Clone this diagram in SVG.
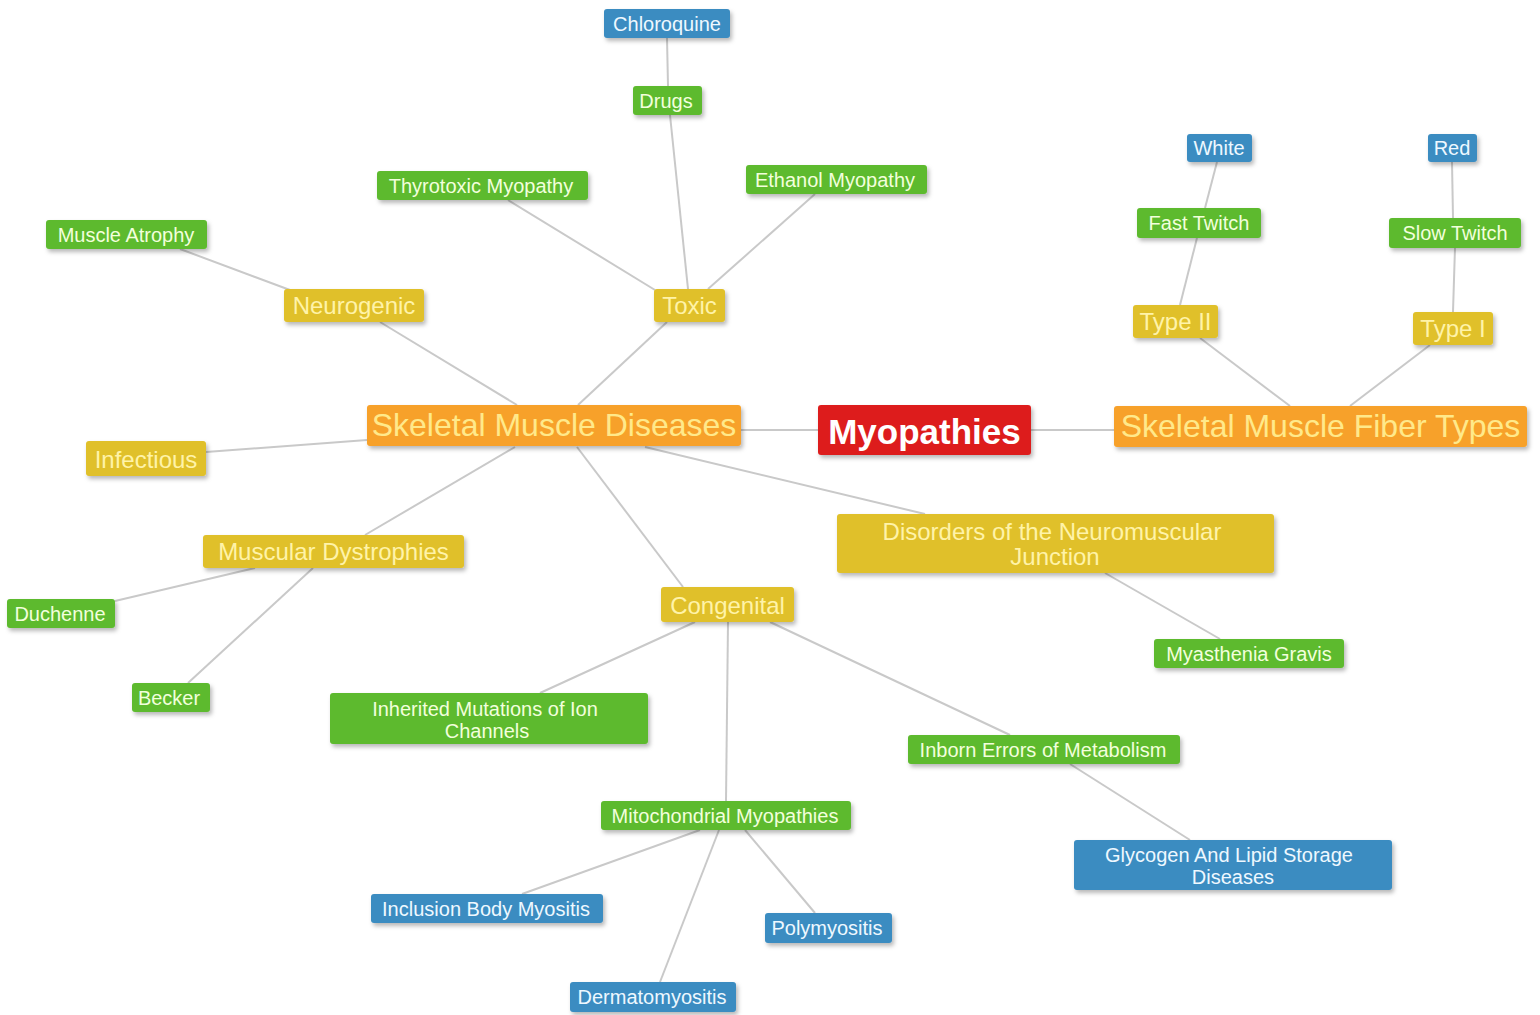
<svg xmlns="http://www.w3.org/2000/svg" width="1540" height="1015" viewBox="0 0 1540 1015">
<defs>
<filter id="sh" x="-10%" y="-30%" width="125%" height="170%">
<feDropShadow dx="2" dy="3" stdDeviation="2" flood-color="#000" flood-opacity="0.28"/>
</filter>
<style>
.n rect{filter:url(#sh);}
.g rect{fill:#5dba2f;}
.b rect{fill:#3a8cc1;}
.y rect{fill:#e0c02a;}
.o rect{fill:#f7a12a;}
.r rect{fill:#dd1c1c;}
text{font-family:"Liberation Sans",Arial,sans-serif;text-anchor:middle;dominant-baseline:central;}
.g text{fill:#f2ffdc;font-size:20px;}
.b text{fill:#eef8ff;font-size:20px;}
.y text{fill:#fff3a8;font-size:24px;}
.o text{fill:#ffe98a;font-size:32px;}
.r text{fill:#ffffff;font-size:35px;font-weight:bold;}
#edges line{stroke:#c9c9c9;stroke-width:2;}
</style>
</defs>
<rect width="1540" height="1015" fill="#ffffff"/>
<g id="edges">
<line x1="741" y1="430" x2="818" y2="430"/>
<line x1="1031" y1="430" x2="1114" y2="430"/>
<line x1="380" y1="322" x2="517" y2="405"/>
<line x1="180" y1="249" x2="290" y2="290"/>
<line x1="578" y1="405" x2="667" y2="322"/>
<line x1="508" y1="200" x2="655" y2="290"/>
<line x1="670" y1="115" x2="688" y2="289"/>
<line x1="708" y1="289" x2="815" y2="194"/>
<line x1="667" y1="38" x2="668" y2="86"/>
<line x1="206" y1="452" x2="367" y2="440"/>
<line x1="365" y1="535" x2="515" y2="447"/>
<line x1="115" y1="601" x2="255" y2="568"/>
<line x1="188" y1="683" x2="313" y2="568"/>
<line x1="577" y1="447" x2="683" y2="587"/>
<line x1="645" y1="447" x2="925" y2="514"/>
<line x1="1105" y1="573" x2="1220" y2="639"/>
<line x1="540" y1="693" x2="695" y2="622"/>
<line x1="728" y1="622" x2="726" y2="801"/>
<line x1="770" y1="622" x2="1010" y2="735"/>
<line x1="1070" y1="764" x2="1190" y2="840"/>
<line x1="522" y1="894" x2="700" y2="830"/>
<line x1="660" y1="982" x2="719" y2="830"/>
<line x1="815" y1="913" x2="745" y2="830"/>
<line x1="1200" y1="338" x2="1290" y2="406"/>
<line x1="1350" y1="406" x2="1430" y2="345"/>
<line x1="1180" y1="305" x2="1197" y2="238"/>
<line x1="1205" y1="208" x2="1217" y2="162"/>
<line x1="1453" y1="312" x2="1455" y2="248"/>
<line x1="1453" y1="218" x2="1452" y2="162"/>
</g>
<g id="myopathies" class="n r"><rect x="818" y="405" width="213" height="50" rx="3"/><text x="924.5" y="431">Myopathies</text></g>
<g id="smd" class="n o"><rect x="367" y="405" width="374" height="41" rx="3"/><text x="554" y="425">Skeletal Muscle Diseases</text></g>
<g id="smft" class="n o"><rect x="1114" y="406" width="413" height="41" rx="3"/><text x="1320.5" y="426">Skeletal Muscle Fiber Types</text></g>
<g id="neurogenic" class="n y"><rect x="284" y="289" width="140" height="33" rx="3"/><text x="354" y="305.5">Neurogenic</text></g>
<g id="toxic" class="n y"><rect x="654" y="289" width="71" height="33" rx="3"/><text x="689.5" y="305.5">Toxic</text></g>
<g id="infectious" class="n y"><rect x="86" y="441" width="120" height="35" rx="3"/><text x="146" y="459">Infectious</text></g>
<g id="dystrophies" class="n y"><rect x="203" y="535" width="261" height="33" rx="3"/><text x="333.5" y="551.5">Muscular Dystrophies</text></g>
<g id="congenital" class="n y"><rect x="661" y="587" width="133" height="35" rx="3"/><text x="727.5" y="605">Congenital</text></g>
<g id="nmj" class="n y"><rect x="837" y="514" width="437" height="59" rx="3"/><text x="1052" y="531">Disorders of the Neuromuscular</text><text x="1055" y="556">Junction</text></g>
<g id="type2" class="n y"><rect x="1133" y="305" width="85" height="33" rx="3"/><text x="1175.5" y="321.5">Type II</text></g>
<g id="type1" class="n y"><rect x="1413" y="312" width="80" height="33" rx="3"/><text x="1453" y="328.5">Type I</text></g>
<g id="drugs" class="n g"><rect x="633" y="86" width="69" height="29" rx="3"/><text x="666" y="100.5">Drugs</text></g>
<g id="thyrotoxic" class="n g"><rect x="377" y="171" width="211" height="29" rx="3"/><text x="481" y="185.5">Thyrotoxic Myopathy</text></g>
<g id="ethanol" class="n g"><rect x="746" y="165" width="181" height="29" rx="3"/><text x="835" y="179.5">Ethanol Myopathy</text></g>
<g id="atrophy" class="n g"><rect x="46" y="220" width="161" height="29" rx="3"/><text x="126" y="234.5">Muscle Atrophy</text></g>
<g id="fasttwitch" class="n g"><rect x="1137" y="208" width="124" height="30" rx="3"/><text x="1199" y="223">Fast Twitch</text></g>
<g id="slowtwitch" class="n g"><rect x="1389" y="218" width="132" height="30" rx="3"/><text x="1455" y="233">Slow Twitch</text></g>
<g id="duchenne" class="n g"><rect x="7" y="599" width="108" height="29" rx="3"/><text x="60" y="613.5">Duchenne</text></g>
<g id="becker" class="n g"><rect x="132" y="683" width="78" height="29" rx="3"/><text x="169" y="697.5">Becker</text></g>
<g id="ionchannels" class="n g"><rect x="330" y="693" width="318" height="51" rx="3"/><text x="485" y="709">Inherited Mutations of Ion</text><text x="487" y="731">Channels</text></g>
<g id="myasthenia" class="n g"><rect x="1154" y="639" width="190" height="29" rx="3"/><text x="1249" y="653.5">Myasthenia Gravis</text></g>
<g id="inborn" class="n g"><rect x="908" y="735" width="272" height="29" rx="3"/><text x="1043" y="749.5">Inborn Errors of Metabolism</text></g>
<g id="mito" class="n g"><rect x="601" y="801" width="250" height="29" rx="3"/><text x="725" y="815.5">Mitochondrial Myopathies</text></g>
<g id="chloroquine" class="n b"><rect x="604" y="9" width="126" height="29" rx="3"/><text x="667" y="23.5">Chloroquine</text></g>
<g id="white" class="n b"><rect x="1187" y="134" width="65" height="28" rx="3"/><text x="1219" y="148">White</text></g>
<g id="red" class="n b"><rect x="1428" y="134" width="49" height="28" rx="3"/><text x="1452" y="148">Red</text></g>
<g id="glycogen" class="n b"><rect x="1074" y="840" width="318" height="50" rx="3"/><text x="1229" y="855">Glycogen And Lipid Storage</text><text x="1233" y="877">Diseases</text></g>
<g id="inclusion" class="n b"><rect x="371" y="894" width="232" height="29" rx="3"/><text x="486" y="908.5">Inclusion Body Myositis</text></g>
<g id="polymyositis" class="n b"><rect x="765" y="913" width="127" height="30" rx="3"/><text x="827" y="928">Polymyositis</text></g>
<g id="dermatomyositis" class="n b"><rect x="570" y="982" width="166" height="30" rx="3"/><text x="652" y="997">Dermatomyositis</text></g>
</svg>
